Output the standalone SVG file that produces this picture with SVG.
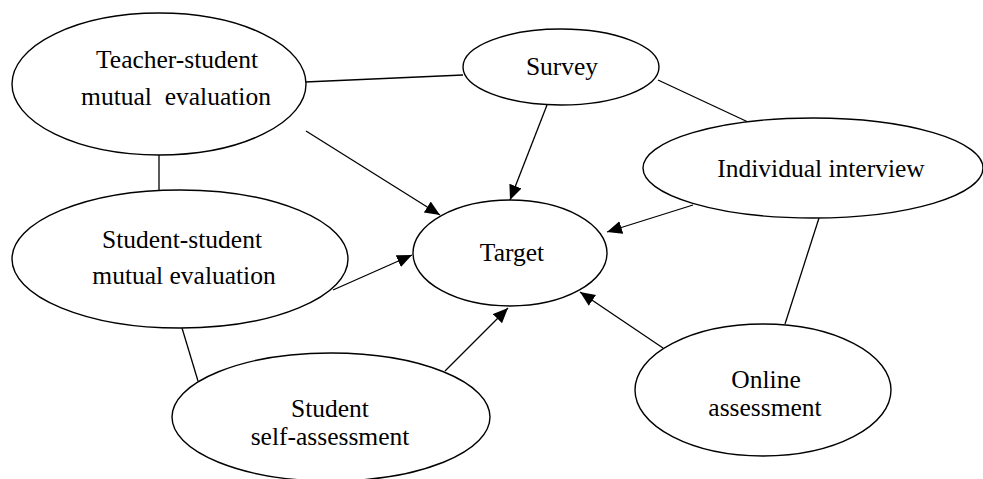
<svg xmlns="http://www.w3.org/2000/svg" width="983" height="479" viewBox="0 0 983 479">
<style>
.n{fill:#fff;stroke:#000;stroke-width:1.4}
.t{font-family:"Liberation Serif","Times New Roman",serif;font-size:25.5px;fill:#000;text-anchor:middle;white-space:pre}
.c{stroke:#000;stroke-width:1.3;fill:none}
</style>
<defs>
<marker id="ah" markerUnits="userSpaceOnUse" markerWidth="16" markerHeight="14" refX="15" refY="6.5" orient="auto">
<path d="M0,0 L15,6.5 L0,13 Z" fill="#000"/>
</marker>
</defs>
<rect width="983" height="479" fill="#fff"/>
<g id="connectors">
<line class="c" x1="305" y1="82" x2="463" y2="75"/>
<line class="c" x1="658" y1="80" x2="748" y2="122"/>
<line class="c" x1="159" y1="155" x2="159" y2="190"/>
<line class="c" x1="182" y1="328" x2="198" y2="381"/>
<line class="c" x1="819" y1="218" x2="785" y2="324"/>
<line class="c" x1="306" y1="131" x2="440" y2="215" marker-end="url(#ah)"/>
<line class="c" x1="547" y1="105" x2="510" y2="200" marker-end="url(#ah)"/>
<line class="c" x1="693" y1="205" x2="607" y2="232" marker-end="url(#ah)"/>
<line class="c" x1="333" y1="290" x2="412" y2="255" marker-end="url(#ah)"/>
<line class="c" x1="445" y1="371" x2="508" y2="308" marker-end="url(#ah)"/>
<line class="c" x1="663" y1="348" x2="580" y2="292" marker-end="url(#ah)"/>
</g>
<g id="teacher-student">
<ellipse class="n" cx="159" cy="84" rx="147" ry="71"/>
<text class="t" x="177" y="68">Teacher-student</text>
<text class="t" x="176" y="105">mutual  evaluation</text>
</g>
<g id="survey">
<ellipse class="n" cx="561" cy="67" rx="98" ry="38"/>
<text class="t" x="562" y="75">Survey</text>
</g>
<g id="individual-interview">
<ellipse class="n" cx="813" cy="168" rx="170" ry="50"/>
<text class="t" x="821" y="177">Individual interview</text>
</g>
<g id="target">
<ellipse class="n" cx="510" cy="253" rx="97" ry="53"/>
<text class="t" x="512" y="261">Target</text>
</g>
<g id="student-student">
<ellipse class="n" cx="180" cy="259" rx="168" ry="69"/>
<text class="t" x="182" y="248">Student-student</text>
<text class="t" x="184" y="284">mutual evaluation</text>
</g>
<g id="self-assessment">
<ellipse class="n" cx="331" cy="417" rx="159" ry="64"/>
<text class="t" x="330" y="417">Student</text>
<text class="t" x="330" y="445">self-assessment</text>
</g>
<g id="online-assessment">
<ellipse class="n" cx="763" cy="390" rx="128" ry="66"/>
<text class="t" x="766" y="388">Online</text>
<text class="t" x="765" y="416">assessment</text>
</g>
</svg>
